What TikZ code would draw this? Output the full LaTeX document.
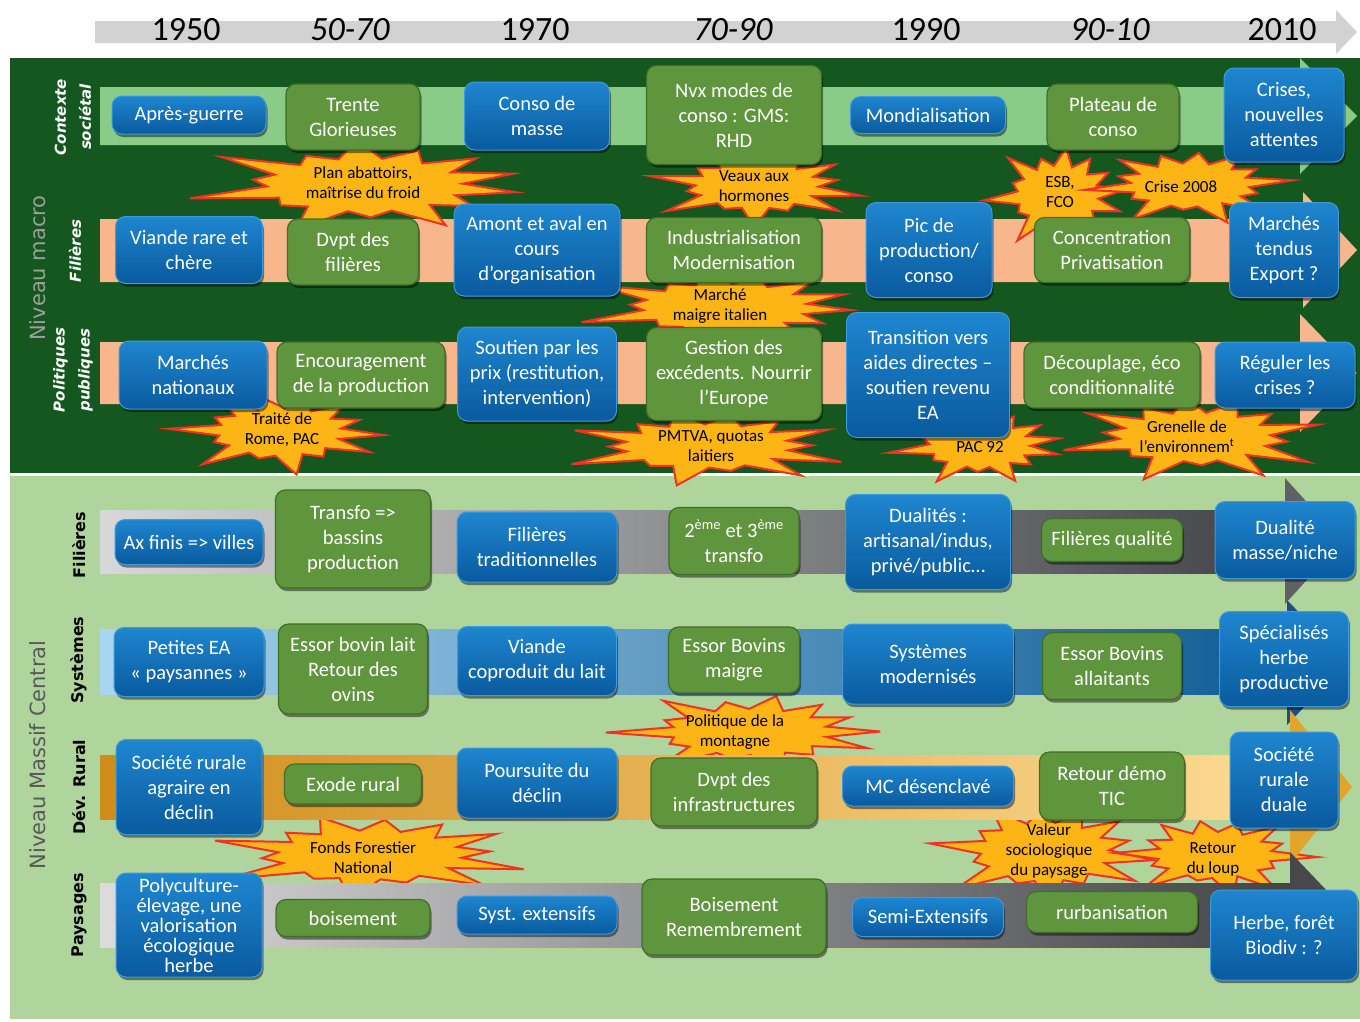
\documentclass[tikz,border=0pt]{standalone}
\usepackage{fontspec}
\setmainfont{Carlito}
\newfontfamily\labfont{DejaVu Sans}
\usetikzlibrary{shadows}
\definecolor{darkgreen}{HTML}{14571F}
\definecolor{lightgreen}{HTML}{B0D59C}
\definecolor{rowgreen}{HTML}{8ACB88}
\definecolor{salmon}{HTML}{F8B68C}
\definecolor{bluetop}{HTML}{1E86CF}
\definecolor{bluebot}{HTML}{0A5A9E}
\definecolor{blueline}{HTML}{3E9AE0}
\definecolor{boxgreen}{HTML}{5F963D}
\definecolor{greenline}{HTML}{3F6E29}
\definecolor{burstfill}{HTML}{FDB515}
\definecolor{burstred}{HTML}{EE3224}
\definecolor{timegrey}{HTML}{D2D2D2}
\definecolor{gA1}{HTML}{D8D8D8}\definecolor{gA2}{HTML}{545458}\definecolor{gA3}{HTML}{414246}\definecolor{gAh}{HTML}{606165}
\definecolor{gB1}{HTML}{A9D6F0}\definecolor{gB2}{HTML}{2C8CCB}\definecolor{gB3}{HTML}{0E5B93}\definecolor{gBh}{HTML}{1F4E86}
\definecolor{gC1}{HTML}{D08C1A}\definecolor{gC2}{HTML}{F2C45E}\definecolor{gC3}{HTML}{FDDC95}\definecolor{gCh}{HTML}{E3A42C}
\definecolor{gD1}{HTML}{DCDCDC}\definecolor{gD2}{HTML}{76767A}\definecolor{gD3}{HTML}{434448}\definecolor{gDh}{HTML}{47484C}
\tikzset{
  box/.style={rounded corners=10pt, inner sep=0pt, align=center, text=white,
     font=\fontsize{20.5}{25}\selectfont,
     drop shadow={shadow xshift=1.5pt, shadow yshift=-3pt, opacity=0.45, fill=black}},
  bluebox/.style={box, top color=bluetop, bottom color=bluebot, draw=blueline, line width=1pt},
  greenbox/.style={box, fill=boxgreen, draw=greenline, line width=1.2pt},
  bursttext/.style={font=\fontsize{17}{20}\selectfont, align=center, text=black, inner sep=0pt},
  burstline/.style={fill=burstfill, draw=burstred, line width=2pt, line join=miter},
  year/.style={font=\fontsize{34}{34}\selectfont, text=black, inner sep=0pt},
  macrolab/.style={font=\labfont\bfseries\itshape\fontsize{15}{25}\selectfont, text=white, align=center, rotate=90, inner sep=0pt},
  lowlab/.style={font=\labfont\bfseries\fontsize{16}{19}\selectfont, text=black, rotate=90, inner sep=0pt},
  levellab/.style={font=\labfont\fontsize{21}{24}\selectfont, rotate=90, inner sep=0pt},
}
% cx, cy, rx, ry, phase
\newcommand\burst[5]{%
  \draw[burstline] plot[variable=\k, samples at={0,...,27}]
    ({#1+#3*ifthenelse(isodd(\k),0.7,1.05+0.25*sin(\k*97+#5))*cos(\k*360/28+#5)},
     {#2+#4*ifthenelse(isodd(\k),0.7,1.05+0.25*sin(\k*97+#5))*sin(\k*360/28+#5)}) -- cycle;}
\begin{document}
\begin{tikzpicture}[x=1pt,y=-1pt]
\useasboundingbox (0,0) rectangle (1360,1021);
\fill[white] (0,0) rectangle (1360,1021);
\fill[darkgreen] (10,58) rectangle (1360,473);
\fill[lightgreen] (10,476) rectangle (1360,1019);
% timeline
\fill[timegrey] (95,21) -- (1336,21) -- (1336,10) -- (1357,32) -- (1336,54) -- (1336,43) -- (95,43) -- cycle;
\node[year] (y1950) at (186,30) {1950};
\node[year] (y5070) at (350,30) {\itshape 50-70};
\node[year] (y1970) at (535,30) {1970};
\node[year] (y7090) at (733,30) {\itshape 70-90};
\node[year] (y1990) at (926,30) {1990};
\node[year] (y9010) at (1110,30) {\itshape 90-10};
\node[year] (y2010) at (1282,30) {2010};
% macro bands
\fill[rowgreen] (100,87) -- (1300,87) -- (1300,58) -- (1357,116) -- (1300,174) -- (1300,145) -- (100,145) -- cycle;
\fill[salmon] (100,219) -- (1303,219) -- (1303,192) -- (1357,250) -- (1303,308) -- (1303,282) -- (100,282) -- cycle;
\fill[salmon] (100,342) -- (1300,342) -- (1300,314) -- (1357,373) -- (1300,432) -- (1300,404) -- (100,404) -- cycle;
% macro bursts
\burst{365}{185}{140}{38}{10}
\burst{757}{186}{88}{32}{40}
\burst{1058}{195}{58}{42}{20}
\burst{1190}{185}{85}{31}{70}
\burst{725}{307}{118}{33}{5}
\burst{280}{432}{88}{34}{30}
\burst{707}{446}{118}{31}{50}
\burst{980}{445}{72}{32}{15}
\burst{1195}{437}{108}{35}{60}
\node[bursttext] (t1) at (363,183) {Plan abattoirs,\\maîtrise du froid};
\node[bursttext] (t2) at (754,186) {Veaux aux\\hormones};
\node[bursttext] (t3) at (1060,192) {ESB,\\FCO};
\node[bursttext] (t4) at (1181,187) {Crise 2008};
\node[bursttext] (t5) at (720,306) {Marché\\maigre italien};
\node[bursttext] (t6) at (282,430) {Traité de\\Rome, PAC};
\node[bursttext] (t7) at (711,446) {PMTVA, quotas\\laitiers};
\node[bursttext] (t8) at (980,447) {PAC 92};
\node[bursttext] (t9) at (1187,437) {Grenelle de\\l’environnem\textsuperscript{t}};
% macro row 1
\node[bluebox, minimum width=154pt, minimum height=38pt] (b11) at (189,115) {Après-guerre};
\node[greenbox, minimum width=134pt, minimum height=66pt] (b12) at (353,117) {Trente\\Glorieuses};
\node[bluebox, minimum width=145pt, minimum height=68pt] (b13) at (537,116) {Conso de\\masse};
\node[greenbox, minimum width=175pt, minimum height=99pt] (b14) at (734,115) {Nvx modes de\\conso : GMS:\\RHD};
\node[bluebox, minimum width=155pt, minimum height=37pt] (b15) at (928,115) {Mondialisation};
\node[greenbox, minimum width=132pt, minimum height=66pt] (b16) at (1113,117) {Plateau de\\conso};
\node[bluebox, minimum width=120pt, minimum height=94pt] (b17) at (1284,115) {Crises,\\nouvelles\\attentes};
% macro row 2
\node[bluebox, minimum width=147pt, minimum height=67pt] (b21) at (189,250) {Viande rare et\\chère};
\node[greenbox, minimum width=131pt, minimum height=66pt] (b22) at (353,252) {Dvpt des\\filières};
\node[bluebox, minimum width=166pt, minimum height=92pt] (b23) at (537,250) {Amont et aval en\\cours\\d’organisation};
\node[greenbox, minimum width=175pt, minimum height=65pt] (b24) at (734,250) {Industrialisation\\Modernisation};
\node[bluebox, minimum width=126pt, minimum height=95pt] (b25) at (929,250) {Pic de\\production/\\conso};
\node[greenbox, minimum width=155pt, minimum height=65pt] (b26) at (1112,250) {Concentration\\Privatisation};
\node[bluebox, minimum width=109pt, minimum height=95pt] (b27) at (1284,250) {Marchés\\tendus\\Export ?};
% macro row 3
\node[bluebox, minimum width=148pt, minimum height=68pt] (b31) at (193,375) {Marchés\\nationaux};
\node[greenbox, minimum width=168pt, minimum height=66pt] (b32) at (361,375) {Encouragement\\de la production};
\node[bluebox, minimum width=159pt, minimum height=94pt] (b33) at (537,374) {Soutien par les\\prix (restitution,\\intervention)};
\node[greenbox, minimum width=175pt, minimum height=93pt] (b34) at (734,374) {Gestion des\\excédents. Nourrir\\l’Europe};
\node[bluebox, minimum width=163pt, minimum height=125pt] (b35) at (928,375) {Transition vers\\aides directes –\\soutien revenu\\EA};
\node[greenbox, minimum width=176pt, minimum height=66pt] (b36) at (1112,375) {Découplage, éco\\conditionnalité};
\node[bluebox, minimum width=140pt, minimum height=66pt] (b37) at (1285,375) {Réguler les\\crises ?};
% lower bursts (behind bands)
\burst{750}{732}{112}{33}{25}
\burst{370}{855}{132}{35}{45}
\burst{1045}{852}{92}{42}{35}
\burst{1215}{855}{82}{33}{80}
% lower bands
\shade[left color=gA1, middle color=gA2, right color=gA3] (100,510) rectangle (1286,573);
\fill[gAh] (1285,478) -- (1342,541) -- (1285,604) -- cycle;
\shade[left color=gB1, middle color=gB2, right color=gB3] (100,629) rectangle (1288,694);
\fill[gBh] (1287,600) -- (1347,662) -- (1287,725) -- cycle;
\shade[left color=gC1, middle color=gC2, right color=gC3] (100,755) rectangle (1291,819);
\fill[gCh] (1290,710) -- (1352,787) -- (1290,864) -- cycle;
\shade[left color=gD1, middle color=gD2, right color=gD3] (100,883) rectangle (1291,947);
\fill[gDh] (1290,852) -- (1350,915) -- (1290,978) -- cycle;
\node[bursttext] (t10) at (735,732) {Politique de la\\montagne};
\node[bursttext] (t11) at (363,858) {Fonds Forestier\\National};
\node[bursttext] (t12) at (1049,851) {Valeur\\sociologique\\du paysage};
\node[bursttext] (t13) at (1213,859) {Retour\\du loup};
% lower row A
\node[bluebox, minimum width=148pt, minimum height=45pt] (a1) at (189,542) {Ax finis => villes};
\node[greenbox, minimum width=155pt, minimum height=98pt] (a2) at (353,539) {Transfo =>\\bassins\\production};
\node[bluebox, minimum width=160pt, minimum height=70pt] (a3) at (537,547) {Filières\\traditionnelles};
\node[greenbox, minimum width=130pt, minimum height=67pt] (a4) at (734,541) {2\textsuperscript{ème} et 3\textsuperscript{ème}\\transfo};
\node[bluebox, minimum width=165pt, minimum height=95pt] (a5) at (928,542) {Dualités :\\artisanal/indus,\\privé/public…};
\node[greenbox, minimum width=141pt, minimum height=43pt] (a6) at (1112,540) {Filières qualité};
\node[bluebox, minimum width=140pt, minimum height=77pt] (a7) at (1285,540) {Dualité\\masse/niche};
% lower row B
\node[bluebox, minimum width=150pt, minimum height=69pt] (s1) at (189,662) {Petites EA\\« paysannes »};
\node[greenbox, minimum width=149pt, minimum height=90pt] (s2) at (353,669) {Essor bovin lait\\Retour des\\ovins};
\node[bluebox, minimum width=159pt, minimum height=69pt] (s3) at (537,661) {Viande\\coproduit du lait};
\node[greenbox, minimum width=131pt, minimum height=66pt] (s4) at (734,660) {Essor Bovins\\maigre};
\node[bluebox, minimum width=171pt, minimum height=80pt] (s5) at (928,664) {Systèmes\\modernisés};
\node[greenbox, minimum width=139pt, minimum height=67pt] (s6) at (1112,666) {Essor Bovins\\allaitants};
\node[bluebox, minimum width=129pt, minimum height=95pt] (s7) at (1284,659) {Spécialisés\\herbe\\productive};
% lower row C
\node[bluebox, minimum width=146pt, minimum height=95pt] (r1) at (189,787) {Société rurale\\agraire en\\déclin};
\node[greenbox, minimum width=137pt, minimum height=40pt] (r2) at (353,784) {Exode rural};
\node[bluebox, minimum width=160pt, minimum height=70pt] (r3) at (537,783) {Poursuite du\\déclin};
\node[greenbox, minimum width=166pt, minimum height=68pt] (r4) at (734,792) {Dvpt des\\infrastructures};
\node[bluebox, minimum width=171pt, minimum height=40pt] (r5) at (928,786) {MC désenclavé};
\node[greenbox, minimum width=145pt, minimum height=68pt] (r6) at (1112,786) {Retour démo\\TIC};
\node[bluebox, minimum width=108pt, minimum height=96pt] (r7) at (1284,780) {Société\\rurale\\duale};
% lower row D
\node[bluebox, minimum width=146pt, minimum height=104pt, font=\fontsize{20.5}{20}\selectfont] (p1) at (189,925) {Polyculture-\\élevage, une\\valorisation\\écologique\\herbe};
\node[greenbox, minimum width=154pt, minimum height=37pt] (p2) at (353,918) {boisement};
\node[bluebox, minimum width=160pt, minimum height=38pt] (p3) at (537,915) {Syst. extensifs};
\node[greenbox, minimum width=184pt, minimum height=76pt] (p4) at (734,917) {Boisement\\Remembrement};
\node[bluebox, minimum width=151pt, minimum height=39pt] (p5) at (928,917) {Semi-Extensifs};
\node[greenbox, minimum width=171pt, minimum height=41pt] (p6) at (1112,912) {rurbanisation};
\node[bluebox, minimum width=147pt, minimum height=90pt] (p7) at (1284,935) {Herbe, forêt\\Biodiv : ?};
% labels
\node[levellab, text=black!38] (lmacro) at (38,268) {Niveau macro};
\node[levellab, text=black!65] (lmc) at (38,755) {Niveau Massif Central};
\node[macrolab] (lctx) at (73,117) {Contexte\\sociétal};
\node[macrolab] (lfil) at (75,251) {Filières};
\node[macrolab] (lpol) at (73,370) {Politiques\\publiques};
\node[lowlab] (lfil2) at (79,545) {Filières};
\node[lowlab] (lsys) at (79,660) {Systèmes};
\node[lowlab] (lrur) at (79,787) {Dév. Rural};
\node[lowlab] (lpay) at (79,915) {Paysages};
\end{tikzpicture}
\end{document}
